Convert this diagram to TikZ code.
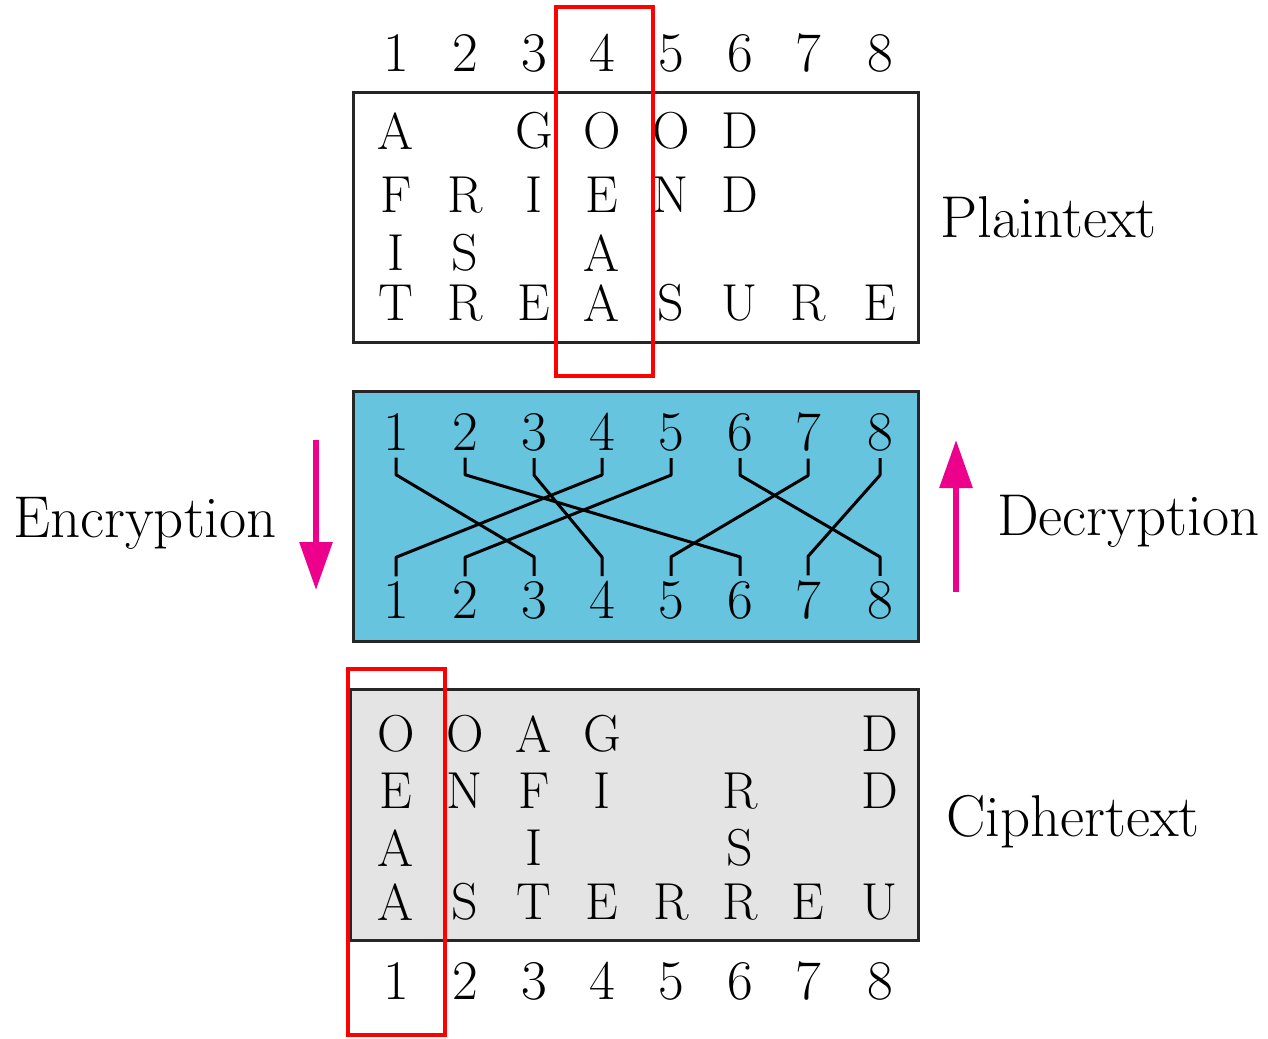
\documentclass[tikz,border=0pt]{standalone}
\usetikzlibrary{arrows.meta}
\definecolor{boxblue}{RGB}{102,196,222}
\definecolor{boxgrey}{RGB}{228,228,228}
\definecolor{flowpink}{RGB}{236,0,140}
% column centres of the 8-column transposition grid
\newcommand\gridrow[3]{%
  \foreach \c/\t in {#3}{%
    \pgfmathsetmacro\colpos{{396,465,534,602,671,740,808,880}[\c-1]}%
    \node[letter] (#1-\c) at (\colpos,#2) {\t};}}
\newcommand\digitrow[2]{%
  \foreach \c in {1,...,8}{%
    \pgfmathsetmacro\colpos{{396,465,534,602,671,740,808,880}[\c-1]}%
    \node[digit] (#1\c) at (\colpos,#2) {\c};}}
\begin{document}
\begin{tikzpicture}[x=1pt,y=-1pt,
  frame/.style={draw=black!85, line width=3pt, inner sep=0pt},
  digit/.style={inner sep=0pt, font=\fontsize{56}{60}\selectfont},
  letter/.style={inner sep=0pt, font=\fontsize{52}{56}\selectfont},
  caption/.style={inner sep=0pt, anchor=base west, font=\fontsize{59}{63}\selectfont},
  wire/.style={line width=3pt, line join=round},
  flow/.style={draw=flowpink, line width=6pt, -{Triangle[length=48pt,width=32pt]}},
  highlight/.style={draw=red, line width=4pt, inner sep=0pt}]
\useasboundingbox (0,0) rectangle (1268,1038);

% the three boxes
\node[frame, fill=white, minimum width=565pt, minimum height=249pt] (plain) at (635.5,217.5) {};
\node[frame, fill=boxblue, minimum width=565pt, minimum height=250pt] (perm) at (635.5,516) {};
\node[frame, fill=boxgrey, minimum width=568pt, minimum height=251pt] (cipher) at (634,814.5) {};

% column numbers
\digitrow{top}{53}
\digitrow{t}{432}
\digitrow{b}{600}
\digitrow{bot}{981}

% plaintext grid
\gridrow{p1}{131}{1/A,3/G,4/O,5/O,6/D}
\gridrow{p2}{195}{1/F,2/R,3/I,4/E,5/N,6/D}
\gridrow{p3}{253}{1/I,2/S,4/A}
\gridrow{p4}{303}{1/T,2/R,3/E,4/A,5/S,6/U,7/R,8/E}

% ciphertext grid
\gridrow{c1}{734}{1/O,2/O,3/A,4/G,8/D}
\gridrow{c2}{791}{1/E,2/N,3/F,4/I,6/R,8/D}
\gridrow{c3}{848}{1/A,3/I,6/S}
\gridrow{c4}{902}{1/A,2/S,3/T,4/E,5/R,6/R,7/E,8/U}

% permutation wiring
\foreach \i/\j in {1/3,2/6,3/4,4/1,5/2,6/8,7/5,8/7}
  \draw[wire] ([yshift=-7pt]t\i.south) -- ++(0pt,-17pt)
    -- ([yshift=24pt]b\j.north) -- ([yshift=5pt]b\j.north);

% direction arrows and labels
\coordinate (encA) at (316,440);
\coordinate (encB) at (316,590);
\coordinate (decA) at (956,592);
\coordinate (decB) at (956,440);
\draw[flow] (encA) -- (encB);
\draw[flow] (decA) -- (decB);
\node[caption] (enc) at (13,537) {Encryption};
\node[caption] (dec) at (997,535) {Decryption};
\node[caption] (plabel) at (940,237) {Plaintext};
\node[caption] (clabel) at (946,836) {Ciphertext};

% highlighted columns
\node[highlight, minimum width=97pt, minimum height=369pt] (hl4) at (604.5,191.5) {};
\node[highlight, minimum width=97pt, minimum height=366pt] (hl1) at (396.5,852) {};
\end{tikzpicture}
\end{document}
